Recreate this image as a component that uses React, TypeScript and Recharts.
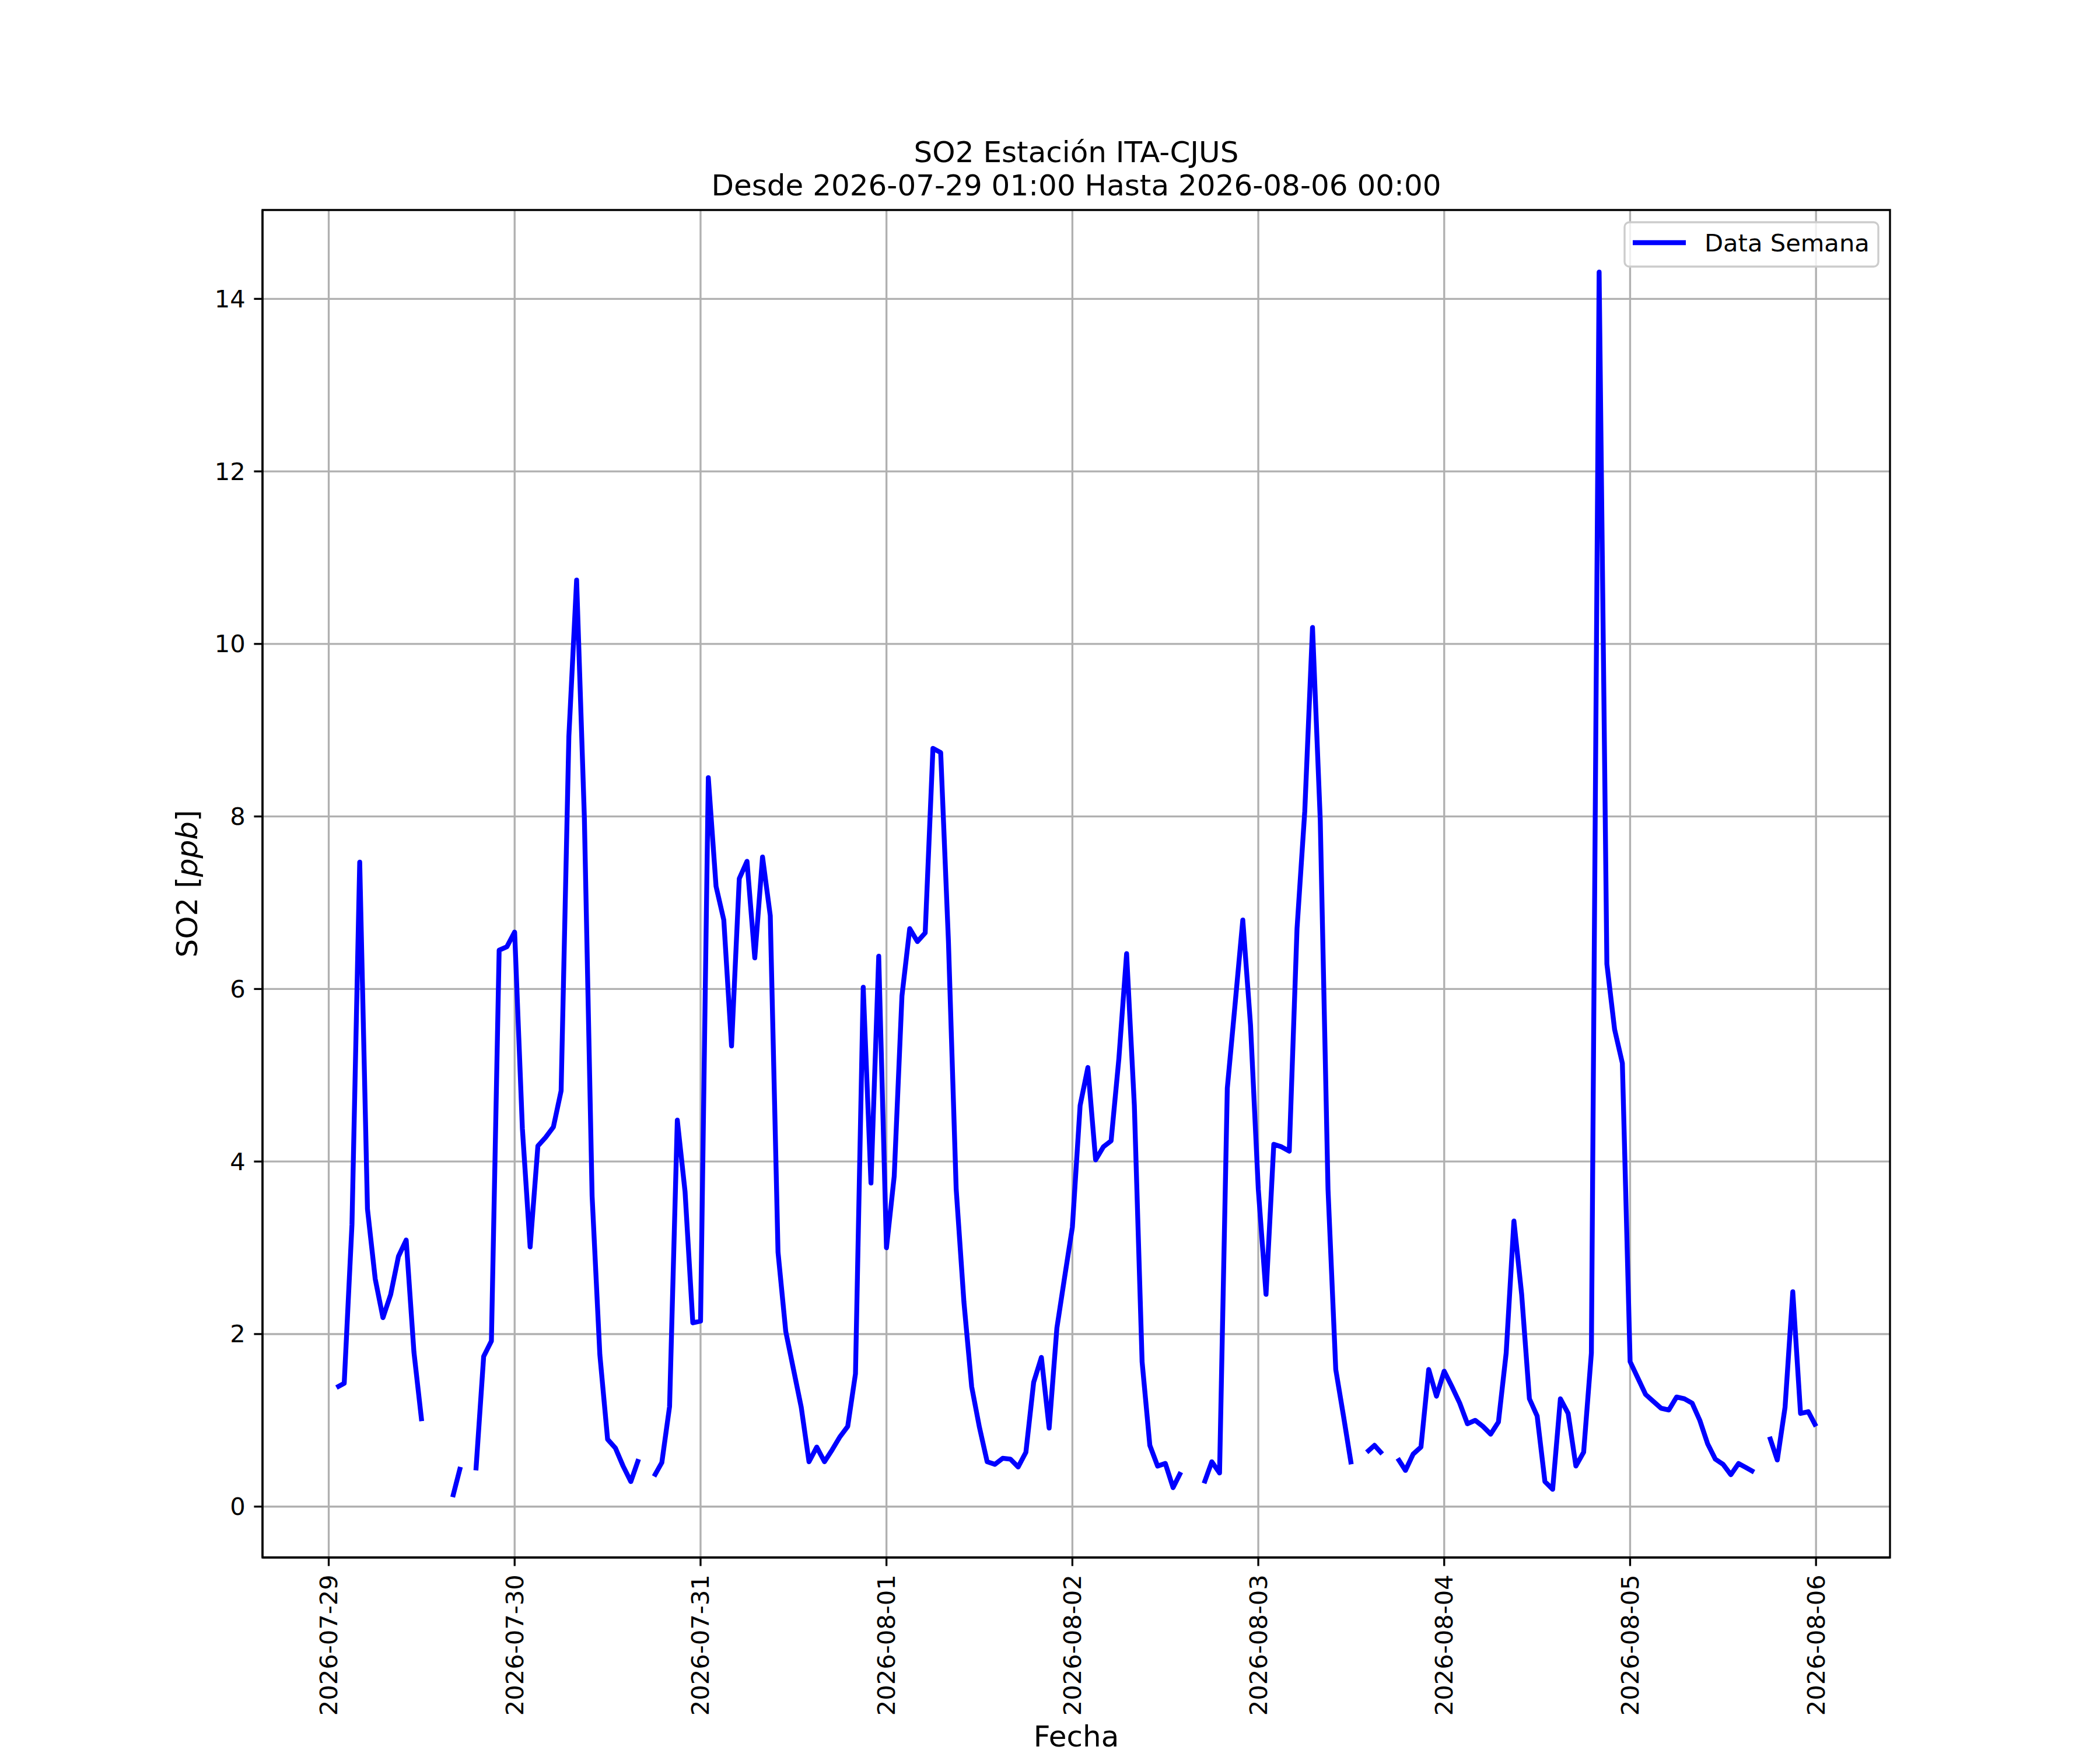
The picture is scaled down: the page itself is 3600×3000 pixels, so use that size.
import React from 'react';
import { LineChart, Line, XAxis, YAxis, CartesianGrid, ReferenceArea } from 'recharts';

// hourly SO2 readings (ppb), 2026-07-29 01:00 .. 2026-08-06 00:00, null = no data
const so2Values: (number | null)[] = [
  1.38, 1.43, 3.27, 7.47, 3.45, 2.64, 2.19, 2.46, 2.90, 3.09, 1.79, 0.99,
  null, null, null, 0.11, 0.46, null, 0.42, 1.74, 1.92, 6.45, 6.49, 6.66,
  4.38, 3.01, 4.18, 4.28, 4.40, 4.82, 8.93, 10.74, 7.99, 3.60, 1.76, 0.78,
  0.68, 0.47, 0.29, 0.55, null, 0.35, 0.51, 1.16, 4.48, 3.65, 2.13, 2.15,
  8.45, 7.19, 6.80, 5.34, 7.28, 7.48, 6.36, 7.53, 6.85, 2.95, 2.03, 1.59,
  1.15, 0.52, 0.69, 0.52, 0.66, 0.81, 0.93, 1.54, 6.02, 3.75, 6.38, 3.00,
  3.83, 5.92, 6.70, 6.55, 6.65, 8.79, 8.74, 6.55, 3.68, 2.37, 1.39, 0.92,
  0.52, 0.49, 0.56, 0.55, 0.46, 0.63, 1.44, 1.73, 0.91, 2.07, 2.66, 3.24,
  4.65, 5.09, 4.02, 4.17, 4.24, 5.19, 6.41, 4.65, 1.68, 0.71, 0.47, 0.50,
  0.22, 0.40, null, null, 0.27, 0.52, 0.39, 4.85, 5.82, 6.80, 5.58, 3.68,
  2.46, 4.20, 4.17, 4.12, 6.70, 8.06, 10.19, 7.96, 3.68, 1.59, 1.05, 0.49,
  null, 0.63, 0.71, 0.61, null, 0.56, 0.42, 0.61, 0.69, 1.59, 1.28, 1.57,
  1.39, 1.20, 0.96, 1.00, 0.93, 0.84, 0.98, 1.78, 3.31, 2.46, 1.25, 1.05,
  0.29, 0.20, 1.25, 1.08, 0.47, 0.63, 1.78, 14.31, 6.29, 5.53, 5.14, 1.68,
  1.49, 1.30, 1.22, 1.14, 1.12, 1.27, 1.25, 1.20, 1.00, 0.73, 0.55, 0.49,
  0.37, 0.50, 0.45, 0.40, null, 0.81, 0.54, 1.15, 2.49, 1.08, 1.10, 0.93,
];

const dayLabels = [
  '2026-07-29', '2026-07-30', '2026-07-31', '2026-08-01', '2026-08-02',
  '2026-08-03', '2026-08-04', '2026-08-05', '2026-08-06',
];

const yTicks = [0, 2, 4, 6, 8, 10, 12, 14];

// x = hours since 2026-07-29 00:00
const data = so2Values.map((v, i) => ({ h: i + 1, so2: v }));
const dayTicks = dayLabels.map((_, i) => i * 24);

const FONT = 'DejaVu Sans';
const PT = 300 / 72;
const LINE_W = 2 * PT;

const XTick = (props: any) => {
  const { x, y, payload } = props;
  const label = dayLabels[Math.round(payload.value / 24)];
  return (
    <text
      x={x}
      y={y}
      transform={`rotate(-90, ${x}, ${y})`}
      textAnchor="end"
      dominantBaseline="central"
      fontSize={10 * PT}
      fontFamily={FONT}
      fill="#000"
    >
      {label}
    </text>
  );
};

const YTick = (props: any) => {
  const { x, y, payload } = props;
  return (
    <text x={x} y={y} textAnchor="end" dominantBaseline="central" fontSize={10 * PT} fontFamily={FONT} fill="#000">
      {payload.value}
    </text>
  );
};

const App: React.FC = () => {
  const axisStyle = { stroke: '#000', strokeWidth: 0.8 * PT };
  return (
    <div style={{ position: 'relative', width: 3600, height: 3000, background: '#fff' }}>
      <style>{'body{margin:0}'}</style>
      <LineChart width={3600} height={3000} data={data} margin={{ top: 360, right: 360, bottom: 0, left: 0 }}>
        <CartesianGrid stroke="#b0b0b0" strokeWidth={0.8 * PT} horizontalValues={yTicks} verticalValues={dayTicks} />
        <XAxis
          type="number"
          dataKey="h"
          domain={[-8.55, 201.55]}
          ticks={dayTicks}
          allowDataOverflow
          height={330}
          tick={<XTick />}
          tickSize={3.5 * PT}
          tickMargin={3.5 * PT}
          axisLine={axisStyle}
          tickLine={axisStyle}
        />
        <YAxis
          type="number"
          domain={[-0.59, 15.03]}
          ticks={yTicks}
          allowDataOverflow
          width={450}
          tick={<YTick />}
          tickSize={3.5 * PT}
          tickMargin={3.5 * PT}
          axisLine={axisStyle}
          tickLine={axisStyle}
        />
        <ReferenceArea x1={-8.55} x2={201.55} y1={-0.59} y2={15.03} fill="none" stroke="#000" strokeWidth={0.8 * PT} />
        <Line
          type="linear"
          dataKey="so2"
          stroke="#0000ff"
          strokeWidth={LINE_W}
          strokeLinejoin="round"
          dot={false}
          activeDot={false}
          connectNulls={false}
          isAnimationActive={false}
        />
      </LineChart>
      <svg
        width={3600}
        height={3000}
        style={{ position: 'absolute', left: 0, top: 0, pointerEvents: 'none' }}
        fontFamily={FONT}
      >
        <text x={1845} y={278} textAnchor="middle" fontSize={12 * PT}>SO2 Estación ITA-CJUS</text>
        <text x={1845} y={335} textAnchor="middle" fontSize={12 * PT}>Desde 2026-07-29 01:00 Hasta 2026-08-06 00:00</text>
        <text x={1845} y={2994} textAnchor="middle" fontSize={12 * PT}>Fecha</text>
        <text x={338} y={1515} transform="rotate(-90, 338, 1515)" textAnchor="middle" fontSize={12 * PT}>
          SO2 [<tspan fontStyle="italic">ppb</tspan>]
        </text>
        <g>
          <rect x={2785} y={381} width={435} height={76} rx={8} fill="#fff" fillOpacity={0.8} stroke="#cccccc" strokeWidth={0.8 * PT} />
          <line x1={2799} x2={2890} y1={416} y2={416} stroke="#0000ff" strokeWidth={LINE_W} />
          <text x={2922} y={431} fontSize={10 * PT}>Data Semana</text>
        </g>
      </svg>
    </div>
  );
};

export default App;
